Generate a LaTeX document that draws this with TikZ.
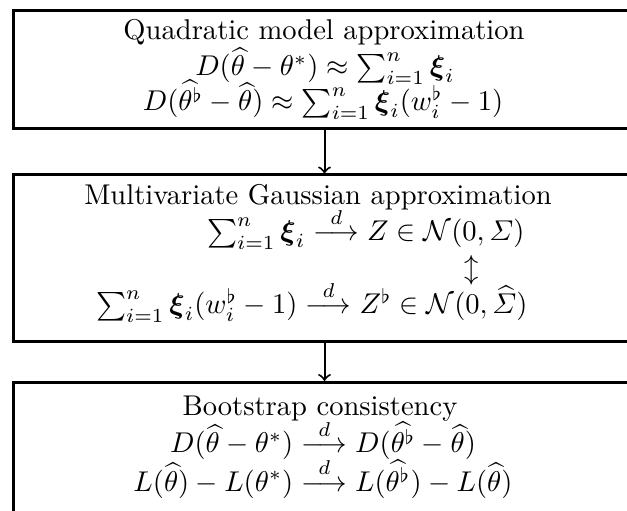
\documentclass[tikz,border=0pt]{standalone}
\usepackage{amsmath,amssymb}
\newcommand{\dto}{\overset{d}{\longrightarrow}}
\begin{document}
\begin{tikzpicture}[x=0.35pt,y=-0.35pt,
  boxstyle/.style={draw,line width=1.05pt,inner sep=0pt,anchor=north west},
  linestyle/.style={inner sep=0pt,anchor=base},
  rlinestyle/.style={inner sep=0pt,anchor=base east},
  flowarrow/.style={->,line width=0.7pt}]
\useasboundingbox (0,0) rectangle (627,511);
\clip (0,0) rectangle (627,511);
% boxes
\node[boxstyle,minimum width=623*0.35pt,minimum height=118*0.35pt] (b1) at (11.5,9.5) {};
\node[boxstyle,minimum width=623*0.35pt,minimum height=167*0.35pt] (b2) at (11.5,173.5) {};
\node[boxstyle,minimum width=623*0.35pt,minimum height=180*0.35pt] (b3) at (11.5,381) {};
% box 1 text
\node[linestyle] (t11) at (324,40) {Quadratic model approximation};
\node[linestyle] (t12) at (325,76) {$D(\widehat{\theta}-\theta^*)\approx\sum_{i=1}^n\boldsymbol{\xi}_i$};
\node[linestyle] (t13) at (323,111) {$D(\widehat{\theta^\flat}-\widehat{\theta})\approx\sum_{i=1}^n\boldsymbol{\xi}_i(w_i^\flat-1)$};
% box 2 text
\node[linestyle] (t21) at (318,205) {Multivariate Gaussian approximation};
\node[rlinestyle] (t22) at (525,241) {$\sum_{i=1}^n\boldsymbol{\xi}_i\dto Z\in\mathcal{N}(0,\varSigma)$};
\node[inner sep=0pt] (t23) at (472,270) {$\updownarrow$};
\node[rlinestyle] (t24) at (528,314) {$\sum_{i=1}^n\boldsymbol{\xi}_i(w_i^\flat-1)\dto Z^\flat\in\mathcal{N}(0,\widehat{\varSigma})$};
% box 3 text
\node[linestyle] (t31) at (320,416) {Bootstrap consistency};
\node[linestyle] (t32) at (323,453) {$D(\widehat{\theta}-\theta^*)\dto D(\widehat{\theta^\flat}-\widehat{\theta})$};
\node[linestyle] (t33) at (323,491) {$L(\widehat{\theta})-L(\theta^*)\dto L(\widehat{\theta^\flat})-L(\widehat{\theta})$};
% arrows
\draw[flowarrow] (b1.south) -- (b2.north);
\draw[flowarrow] (b2.south) -- (b3.north);
\end{tikzpicture}
\end{document}
